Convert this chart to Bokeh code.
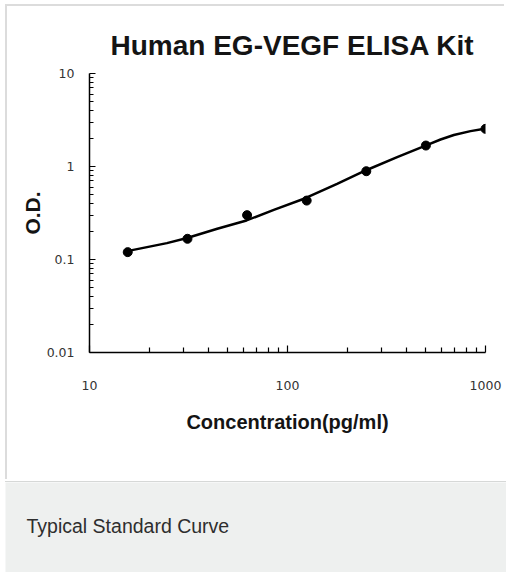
from bokeh.plotting import figure
from bokeh.models import FixedTicker, CustomJSTickFormatter, Label, GlobalInlineStyleSheet
from bokeh.embed import file_html
from bokeh.resources import INLINE

# ---- data ----
title_text = "Human EG-VEGF ELISA Kit"
x_label = "Concentration(pg/ml)"
y_label = "O.D."
caption = "Typical Standard Curve"

conc = [15.6, 31.25, 62.5, 125, 250, 500, 1000]
od = [0.12, 0.167, 0.30, 0.43, 0.89, 1.68, 2.54]

curve_conc = [15.5, 24.6, 31.1, 44.2, 62.1, 85.3, 123, 178, 248, 358, 498, 593, 692, 840, 989]
curve_od = [0.123, 0.150, 0.170, 0.214, 0.263, 0.342, 0.456, 0.651, 0.906, 1.26, 1.68, 1.95, 2.18, 2.40, 2.54]

x_limits = (10, 1000)
y_limits = (0.01, 10)
x_decades = [10, 100, 1000]
y_decades = [0.01, 0.1, 1, 10]


def minors(decades):
    return [d * k for d in decades[:-1] for k in range(2, 10)]


page_css = GlobalInlineStyleSheet(css="html, body { overflow: hidden; }")

# ---- main chart ----
p = figure(width=499, height=475, x_axis_type="log", y_axis_type="log",
           x_range=x_limits, y_range=y_limits,
           output_backend="svg", toolbar_location=None,
           min_border_left=82, min_border_right=21,
           min_border_top=67, min_border_bottom=129)
p.stylesheets = [page_css]
p.styles = {"margin-left": "7px", "margin-top": "6px",
            "box-shadow": "-2px -2px 0px 0px #dcdcdc"}
p.background_fill_color = "white"
p.border_fill_color = "white"
p.outline_line_color = None
p.grid.visible = False

p.title.text = title_text
p.title.align = "left"
p.title.offset = 21
p.title.standoff = 25
p.title.text_font = "Liberation Sans"
p.title.text_font_size = "28px"
p.title.text_font_style = "bold"
p.title.text_color = "#141414"

fmt = CustomJSTickFormatter(code="return Number(tick.toPrecision(1)).toString();")

p.xaxis[0].ticker = FixedTicker(ticks=x_decades, minor_ticks=minors(x_decades))
p.yaxis[0].ticker = FixedTicker(ticks=y_decades, minor_ticks=minors(y_decades))

for ax in (p.xaxis[0], p.yaxis[0]):
    ax.formatter = fmt
    ax.axis_line_color = "black"
    ax.axis_line_width = 1.5
    ax.major_tick_line_color = "black"
    ax.minor_tick_line_color = "black"
    ax.major_tick_line_width = 1.2
    ax.minor_tick_line_width = 1.2
    ax.major_tick_out = 0
    ax.minor_tick_out = 0
    ax.major_label_text_font = "DejaVu Sans"
    ax.major_label_text_font_size = "12.5px"
    ax.major_label_text_color = "#333333"
    ax.axis_label_text_font = "Liberation Sans"
    ax.axis_label_text_font_style = "bold"
    ax.axis_label_text_color = "#141414"

p.xaxis.axis_label = x_label
p.xaxis.axis_label_text_font_size = "20px"
p.xaxis.major_tick_in = 7
p.xaxis.minor_tick_in = 5
p.xaxis.major_label_standoff = 28
p.xaxis.axis_label_standoff = 18

p.yaxis.axis_label = y_label
p.yaxis.axis_label_text_font_size = "21px"
p.yaxis.major_tick_in = 6
p.yaxis.minor_tick_in = 4
p.yaxis.major_label_standoff = 15
p.yaxis.axis_label_standoff = 0

p.line(curve_conc, curve_od, line_color="black", line_width=2.5)
p.scatter(conc, od, size=9, fill_color="black", line_color="black")

# ---- caption band ----
band = figure(width=501, height=90, x_range=(0, 501), y_range=(0, 90),
              output_backend="svg", toolbar_location=None,
              x_axis_location=None, y_axis_location=None,
              min_border=0)
band.styles = {"margin-left": "5px", "margin-top": "1px",
               "box-shadow": "0px -1px 0px 0px #d6d8d7"}
band.grid.visible = False
band.outline_line_color = None
band.background_fill_color = "#eef0ef"
band.border_fill_color = "#eef0ef"
band.add_layout(Label(x=21, y=47, text=caption, text_baseline="middle",
                      text_font="Liberation Sans", text_font_size="19.5px",
                      text_color="#2e2e2e"))

open("out.html", "w").write(file_html([p, band], INLINE))
